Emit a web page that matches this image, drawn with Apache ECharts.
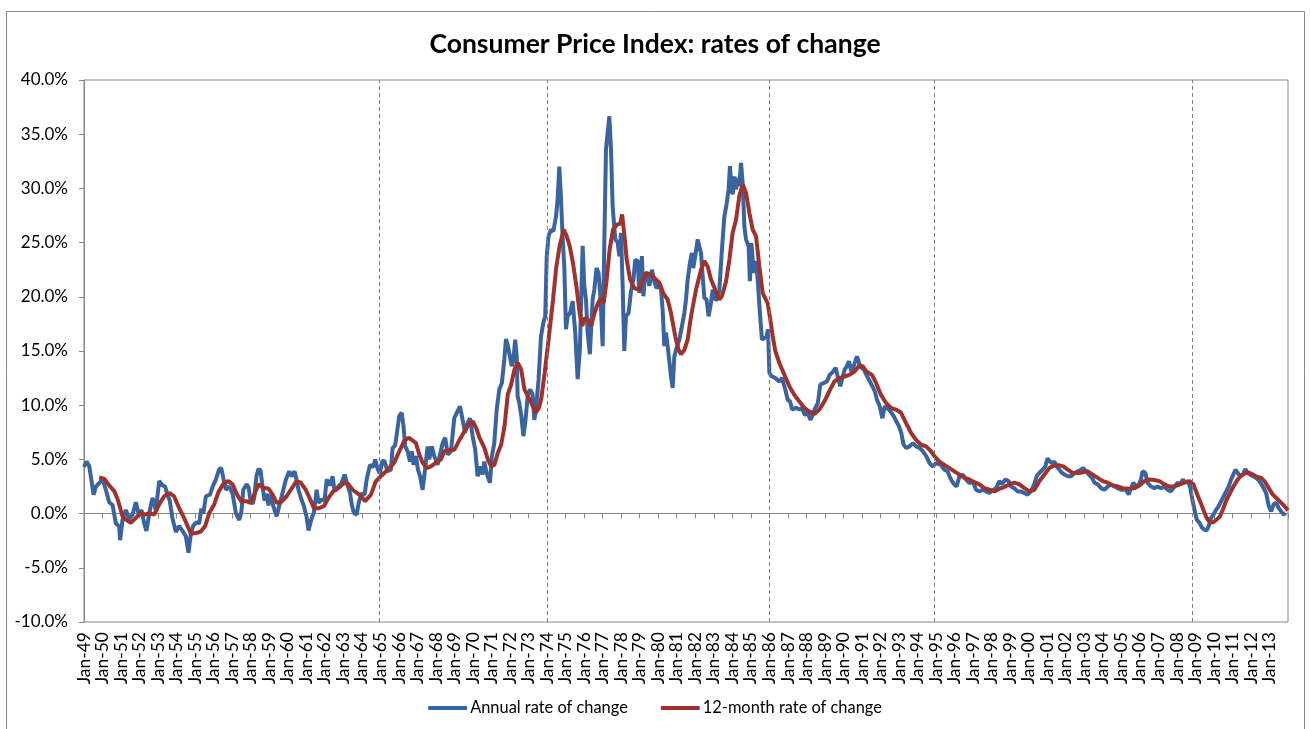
<!DOCTYPE html>
<html>
<head>
<meta charset="utf-8">
<title>Consumer Price Index: rates of change</title>
<script src="https://cdn.jsdelivr.net/npm/echarts@6/dist/echarts.min.js"></script>
<style>
  html, body { margin: 0; padding: 0; background: #fff; }
  #chart { width: 1310px; height: 729px; }
</style>
</head>
<body>
<div id="chart"></div>
<script>
// [decimal year, % change]
const annual1949to1965 = [
  [1949.0, 4.3], [1949.14, 4.8], [1949.28, 4.4], [1949.37, 4.3], [1949.52, 1.75], [1949.64, 2.5], [1949.82, 2.8],
  [1950.0, 3.2], [1950.18, 2.2], [1950.36, 1.05], [1950.54, 0.8], [1950.72, -0.9], [1950.9, -1.2], [1950.95, -2.45],
  [1951.08, -0.55], [1951.26, 0.35], [1951.44, -0.5], [1951.62, -0.1], [1951.8, 1.05], [1951.98, -0.2],
  [1952.1, 0.35], [1952.25, -0.9], [1952.37, -1.6], [1952.56, 0.35], [1952.7, 1.45], [1952.88, 0.3],
  [1953.06, 3.0], [1953.24, 2.6], [1953.38, 2.5], [1953.5, 1.75], [1953.63, 1.2], [1953.77, -0.4], [1953.96, -1.7],
  [1954.14, -1.15], [1954.32, -1.6], [1954.5, -2.1], [1954.64, -3.6], [1954.77, -1.85], [1954.9, -1.1],
  [1955.08, -0.8], [1955.22, -0.9], [1955.33, 0.45], [1955.44, 0], [1955.58, 1.6], [1955.8, 1.75], [1955.94, 2.45],
  [1956.12, 3.15], [1956.3, 4.1], [1956.41, 4.2], [1956.52, 3.3], [1956.66, 2.2], [1956.84, 2.5],
  [1957.02, 1.85], [1957.2, 0.05], [1957.38, -0.6], [1957.49, 0.1], [1957.6, 2.2], [1957.78, 2.7], [1957.88, 2.45], [1957.99, 1.2],
  [1958.1, 0.9], [1958.19, 1.45], [1958.31, 3.45], [1958.42, 4.1], [1958.53, 4.0], [1958.64, 2.45], [1958.75, 1.2], [1958.86, 1.85], [1958.96, 0.75],
  [1959.07, 1.75], [1959.22, 0.7], [1959.4, -0.25], [1959.5, 0.45], [1959.68, 1.65], [1959.9, 3.15],
  [1960.08, 3.9], [1960.22, 3.45], [1960.37, 3.9], [1960.47, 3.15], [1960.58, 2.2], [1960.73, 1.35], [1960.87, 0.7],
  [1961.01, -0.25], [1961.12, -1.55], [1961.27, -0.55], [1961.41, 0.1], [1961.56, 2.2], [1961.66, 1.0], [1961.84, 1.3], [1961.99, 1.2],
  [1962.1, 3.15], [1962.28, 2.6], [1962.42, 3.45], [1962.53, 2.05], [1962.71, 2.45], [1962.89, 2.75],
  [1963.07, 3.6], [1963.25, 2.5], [1963.36, 1.9], [1963.47, 0.7], [1963.57, 0.05], [1963.72, -0.1], [1963.82, 0.9], [1963.97, 1.85],
  [1964.15, 1.75], [1964.26, 3.15], [1964.44, 4.5], [1964.62, 4.3], [1964.72, 5.0], [1964.87, 4.05], [1964.97, 3.7]
];
const annual1965to1975 = [
  [1965.1, 4.8], [1965.21, 4.9], [1965.39, 3.9], [1965.57, 4.05], [1965.66, 6.05], [1965.8, 6.3],
  [1966.02, 9.0], [1966.15, 9.3], [1966.25, 8.05], [1966.34, 6.2], [1966.47, 5.75], [1966.6, 4.8], [1966.7, 5.75], [1966.79, 4.5], [1966.92, 5.3],
  [1967.03, 4.05], [1967.14, 3.45], [1967.28, 2.2], [1967.41, 4.05], [1967.55, 6.2], [1967.64, 5.0], [1967.78, 6.2], [1967.91, 5.3],
  [1968.09, 4.5], [1968.22, 5.45], [1968.36, 6.5], [1968.5, 7.0], [1968.63, 5.45], [1968.81, 5.75], [1968.99, 8.8],
  [1969.17, 9.45], [1969.3, 9.9], [1969.44, 8.65], [1969.57, 7.45], [1969.71, 8.35], [1969.84, 8.8], [1969.98, 7.15],
  [1970.12, 5.9], [1970.25, 3.45], [1970.39, 4.35], [1970.52, 3.6], [1970.61, 4.8], [1970.7, 4.05], [1970.79, 3.45], [1970.92, 2.85],
  [1971.02, 5.3], [1971.15, 6.5], [1971.28, 9.6], [1971.42, 11.45], [1971.56, 12.05], [1971.69, 14.2], [1971.78, 16.1], [1971.87, 15.6], [1971.96, 14.8],
  [1972.09, 13.6], [1972.18, 14.2], [1972.28, 16.05], [1972.36, 14.5], [1972.41, 10.8], [1972.5, 10.2], [1972.61, 9.0], [1972.72, 7.15], [1972.82, 8.35], [1972.95, 10.8],
  [1973.08, 11.45], [1973.22, 11.0], [1973.31, 8.65], [1973.4, 9.6], [1973.54, 12.35], [1973.67, 16.35], [1973.8, 17.6], [1973.9, 18.2],
  [1973.98, 23.7], [1974.08, 25.6], [1974.21, 26.2], [1974.34, 26.05], [1974.48, 27.4], [1974.57, 29.0], [1974.66, 32.0],
  [1974.74, 29.5], [1974.84, 25.5], [1974.93, 22.8]
];
const annual1975to1986 = [
  [1975.02, 17.0], [1975.11, 18.2], [1975.24, 18.5], [1975.38, 19.6], [1975.52, 16.7], [1975.65, 12.4], [1975.77, 15.1], [1975.92, 24.7],
  [1976.01, 21.0], [1976.1, 19.75], [1976.19, 16.7], [1976.31, 14.7], [1976.46, 19.75], [1976.55, 20.65], [1976.67, 22.65], [1976.78, 22.2], [1976.89, 19.75],
  [1977.0, 15.45], [1977.09, 25.0], [1977.18, 33.6], [1977.36, 36.65], [1977.45, 33.6], [1977.54, 28.35], [1977.68, 25.3], [1977.81, 25.0], [1977.9, 23.75], [1977.99, 25.9],
  [1978.08, 21.0], [1978.17, 15.0], [1978.26, 18.2], [1978.4, 18.5], [1978.53, 20.5], [1978.66, 21.6], [1978.76, 23.4], [1978.89, 23.3], [1978.98, 20.35],
  [1979.07, 22.8], [1979.12, 23.75], [1979.2, 20.05], [1979.3, 22.2], [1979.43, 22.05], [1979.52, 21.0], [1979.66, 22.5], [1979.79, 21.4], [1979.91, 20.8],
  [1980.06, 21.1], [1980.15, 20.65], [1980.24, 18.8], [1980.33, 15.45], [1980.42, 16.7], [1980.51, 15.45], [1980.69, 12.65], [1980.78, 11.6], [1980.87, 14.5], [1980.96, 15.1],
  [1981.14, 16.05], [1981.28, 17.3], [1981.41, 18.5], [1981.5, 19.75], [1981.59, 21.6], [1981.71, 23.1], [1981.82, 24.05], [1981.89, 22.65],
  [1982.0, 23.75], [1982.13, 25.3], [1982.22, 24.65], [1982.31, 24.05], [1982.4, 21.9], [1982.49, 19.9], [1982.61, 19.75], [1982.72, 18.2], [1982.85, 19.45], [1982.94, 20.65],
  [1983.08, 19.75], [1983.21, 19.75], [1983.3, 20.65], [1983.44, 24.35], [1983.57, 27.4], [1983.7, 28.65], [1983.8, 29.9], [1983.87, 32.05], [1983.95, 30.2],
  [1984.02, 29.45], [1984.11, 31.1], [1984.2, 29.9], [1984.31, 30.95], [1984.38, 30.2], [1984.47, 32.35], [1984.56, 30.5], [1984.65, 26.5], [1984.74, 25.3], [1984.88, 24.65], [1984.95, 21.45],
  [1985.03, 24.95], [1985.1, 23.45], [1985.19, 22.2], [1985.28, 23.3], [1985.37, 21.6], [1985.49, 18.5], [1985.6, 16.05], [1985.73, 16.2], [1985.85, 16.35], [1985.93, 17.0]
];
const annual1986to1995 = [
  [1986.0, 13.0], [1986.1, 12.7], [1986.32, 12.5], [1986.53, 12.2], [1986.68, 12.5], [1986.86, 11.45], [1986.99, 10.5],
  [1987.12, 10.35], [1987.23, 9.6], [1987.32, 9.45], [1987.45, 9.75], [1987.63, 9.6], [1987.77, 9.75], [1987.9, 9.1],
  [1988.08, 9.3], [1988.21, 8.65], [1988.32, 9.0], [1988.44, 9.6], [1988.62, 10.2], [1988.75, 11.9], [1988.93, 12.05],
  [1989.11, 12.2], [1989.26, 12.8], [1989.44, 13.1], [1989.58, 13.45], [1989.71, 12.5], [1989.83, 11.75], [1989.94, 12.5],
  [1990.07, 13.3], [1990.19, 13.6], [1990.3, 14.05], [1990.43, 13.1], [1990.55, 13.6], [1990.73, 14.5], [1990.84, 13.9], [1990.97, 13.45],
  [1991.1, 13.3], [1991.24, 12.8], [1991.38, 12.35], [1991.56, 11.75], [1991.69, 11.3], [1991.81, 10.5], [1991.96, 9.9],
  [1992.1, 8.8], [1992.23, 9.9], [1992.35, 9.75], [1992.53, 9.45], [1992.71, 9.0], [1992.86, 8.5],
  [1993.0, 8.05], [1993.12, 7.45], [1993.25, 6.35], [1993.39, 6.05], [1993.57, 6.2], [1993.75, 6.5], [1993.93, 6.2],
  [1994.11, 6.05], [1994.29, 5.75], [1994.47, 5.3], [1994.65, 4.65], [1994.83, 4.35], [1995.0, 4.65]
];
const annual1995to2005 = [
  [1995.08, 4.8], [1995.26, 4.5], [1995.44, 4.05], [1995.62, 3.9], [1995.8, 3.15], [1995.98, 2.7],
  [1996.11, 2.5], [1996.26, 3.45], [1996.44, 3.6], [1996.62, 3.15], [1996.8, 2.8], [1996.98, 3.0],
  [1997.16, 2.2], [1997.34, 2.05], [1997.52, 2.2], [1997.7, 2.05], [1997.88, 1.9],
  [1998.06, 2.15], [1998.24, 2.35], [1998.42, 3.0], [1998.56, 2.7], [1998.74, 3.15], [1998.92, 3.0],
  [1999.04, 2.5], [1999.22, 2.35], [1999.4, 2.05], [1999.58, 2.05], [1999.76, 1.9], [1999.94, 1.75],
  [2000.12, 2.05], [2000.3, 2.7], [2000.43, 3.45], [2000.57, 3.75], [2000.75, 4.05], [2000.9, 4.35],
  [2001.02, 5.1], [2001.15, 4.8], [2001.26, 4.65], [2001.39, 4.8], [2001.51, 4.35], [2001.66, 4.05], [2001.8, 3.75], [2001.93, 3.6],
  [2002.11, 3.45], [2002.29, 3.45], [2002.47, 3.75], [2002.65, 3.9], [2002.83, 4.05], [2002.95, 4.2],
  [2003.1, 3.9], [2003.24, 3.6], [2003.42, 3.3], [2003.55, 2.85], [2003.73, 2.7], [2003.91, 2.35],
  [2004.09, 2.2], [2004.27, 2.5], [2004.45, 2.7], [2004.63, 2.5], [2004.81, 2.35], [2004.99, 2.2]
];
const annual2005to2014 = [
  [2005.26, 2.2], [2005.4, 1.75], [2005.53, 2.35], [2005.65, 2.85], [2005.8, 2.5], [2005.94, 2.65],
  [2006.06, 3.15], [2006.15, 3.9], [2006.3, 3.75], [2006.42, 2.85], [2006.6, 2.5], [2006.78, 2.35], [2006.96, 2.5],
  [2007.14, 2.35], [2007.32, 2.5], [2007.5, 2.2], [2007.68, 2.05], [2007.86, 2.5],
  [2008.05, 2.85], [2008.17, 2.65], [2008.32, 3.15], [2008.46, 2.85], [2008.59, 3.0], [2008.71, 2.5], [2008.82, 1.45], [2008.95, 0.35],
  [2009.07, -0.55], [2009.22, -0.85], [2009.36, -1.3], [2009.49, -1.5], [2009.61, -1.55], [2009.72, -1.15], [2009.85, -0.4], [2009.97, -0.1],
  [2010.12, 0.35], [2010.26, 0.7], [2010.44, 1.3], [2010.62, 1.9], [2010.8, 2.5], [2010.93, 3.15],
  [2011.05, 3.6], [2011.16, 4.05], [2011.29, 3.75], [2011.41, 3.45], [2011.56, 3.6], [2011.7, 4.1], [2011.83, 3.75], [2011.95, 3.6],
  [2012.1, 3.45], [2012.28, 3.3], [2012.46, 3.0], [2012.64, 2.5], [2012.82, 1.9], [2012.96, 0.7],
  [2013.09, 0.2], [2013.22, 0.85], [2013.36, 1.0], [2013.5, 0.5], [2013.63, 0.2], [2013.76, -0.1], [2013.87, 0.05]
];

const twelveMonth1949to1965 = [
  [1949.82, 3.35], [1950.1, 3.2], [1950.36, 2.6], [1950.64, 2.05], [1950.82, 1.3],
  [1951.08, -0.25], [1951.26, -0.55], [1951.53, -0.85], [1951.8, -0.4], [1952.07, 0.1], [1952.3, -0.1], [1952.52, 0.05], [1952.79, -0.1],
  [1953.06, 0.85], [1953.33, 1.6], [1953.63, 1.9], [1953.86, 1.6], [1954.14, 0.5], [1954.36, -0.25], [1954.59, -1.15], [1954.77, -1.85],
  [1955.04, -1.8], [1955.31, -1.65], [1955.54, -1.15], [1955.76, 0.05], [1956.03, 0.85], [1956.26, 2.0], [1956.52, 2.75], [1956.8, 3.0],
  [1957.02, 2.7], [1957.26, 1.75], [1957.48, 1.15], [1957.75, 1.15], [1958.0, 1.0], [1958.19, 1.75], [1958.42, 2.7], [1958.67, 2.4], [1958.96, 2.3],
  [1959.18, 1.75], [1959.4, 1.0], [1959.63, 1.05], [1959.94, 1.6], [1960.26, 2.45], [1960.47, 3.0], [1960.7, 2.85], [1960.97, 2.2],
  [1961.24, 1.2], [1961.42, 0.5], [1961.69, 0.5], [1961.96, 0.7], [1962.2, 1.45], [1962.45, 2.05], [1962.74, 2.35],
  [1963.05, 2.85], [1963.25, 2.75], [1963.5, 2.2], [1963.86, 1.75], [1964.18, 1.15], [1964.49, 1.75], [1964.76, 3.0], [1965.0, 3.4]
];
const twelveMonth1965to1974 = [
  [1965.21, 3.75], [1965.48, 4.2], [1965.75, 4.7], [1966.02, 5.75], [1966.29, 6.7], [1966.52, 7.0], [1966.74, 6.75], [1966.92, 6.5],
  [1967.1, 5.45], [1967.28, 4.7], [1967.5, 4.2], [1967.73, 4.35], [1968.0, 4.7], [1968.27, 5.0], [1968.45, 5.75], [1968.72, 5.85],
  [1969.0, 5.9], [1969.27, 6.8], [1969.54, 7.6], [1969.81, 8.35], [1969.99, 8.5], [1970.17, 7.9], [1970.35, 7.0], [1970.62, 6.05], [1970.8, 5.0], [1970.98, 4.35],
  [1971.16, 4.5], [1971.34, 5.6], [1971.52, 6.35], [1971.7, 8.05], [1971.88, 11.0], [1972.06, 11.9], [1972.24, 13.3], [1972.42, 13.9], [1972.6, 13.3], [1972.78, 11.45],
  [1973.02, 10.65], [1973.2, 10.05], [1973.38, 9.3], [1973.56, 9.75], [1973.69, 10.65], [1973.87, 13.0]
];
const twelveMonth1974to1986 = [
  [1974.05, 15.6], [1974.32, 19.7], [1974.5, 22.8], [1974.68, 24.7], [1974.9, 26.2], [1975.04, 25.7], [1975.22, 24.7], [1975.4, 23.1], [1975.58, 21.0], [1975.76, 18.5], [1975.9, 17.3],
  [1976.02, 18.05], [1976.2, 17.9], [1976.38, 17.3], [1976.56, 18.5], [1976.74, 19.4], [1976.92, 19.9],
  [1977.05, 19.4], [1977.2, 21.3], [1977.38, 24.4], [1977.56, 26.2], [1977.77, 26.65], [1977.95, 26.75], [1978.05, 27.6], [1978.18, 25.6], [1978.3, 23.4], [1978.48, 21.6], [1978.71, 20.8], [1978.98, 20.65],
  [1979.16, 21.4], [1979.34, 22.2], [1979.61, 22.05], [1979.79, 21.75], [1980.06, 21.3], [1980.27, 20.35], [1980.51, 19.75], [1980.69, 18.5], [1980.92, 16.35],
  [1981.1, 15.1], [1981.23, 14.7], [1981.41, 15.1], [1981.59, 16.05], [1981.77, 18.2], [1982.04, 20.65], [1982.31, 22.5], [1982.49, 23.3], [1982.67, 22.8], [1982.85, 21.6],
  [1983.08, 20.65], [1983.3, 19.75], [1983.44, 20.05], [1983.66, 21.4], [1983.84, 23.4], [1984.02, 25.9], [1984.2, 27.1], [1984.38, 29.3], [1984.56, 30.35], [1984.74, 29.6], [1984.92, 27.75],
  [1985.1, 26.2], [1985.28, 25.6], [1985.46, 22.8], [1985.64, 20.35], [1985.91, 19.4]
];
const twelveMonth1986to1995 = [
  [1986.05, 17.9], [1986.18, 16.4], [1986.32, 15.0], [1986.54, 13.9], [1986.81, 12.8], [1987.08, 11.75], [1987.35, 10.95], [1987.62, 10.35], [1987.89, 9.75],
  [1988.12, 9.45], [1988.43, 9.2], [1988.7, 9.6], [1988.97, 10.35], [1989.24, 11.3], [1989.51, 12.2], [1989.78, 12.5],
  [1990.05, 12.65], [1990.32, 12.8], [1990.59, 13.1], [1990.86, 13.65], [1991.04, 13.6], [1991.25, 13.1], [1991.54, 12.8], [1991.76, 12.05],
  [1992.03, 10.95], [1992.3, 10.2], [1992.57, 9.75], [1992.84, 9.6], [1993.11, 9.3], [1993.38, 8.35], [1993.65, 7.45], [1993.92, 6.8],
  [1994.19, 6.35], [1994.46, 6.2], [1994.73, 5.75], [1994.91, 5.3]
];
const twelveMonth1995to2014 = [
  [1995.18, 4.8], [1995.45, 4.5], [1995.72, 4.2], [1995.99, 3.9], [1996.26, 3.6], [1996.53, 3.3], [1996.8, 3.15],
  [1997.07, 2.9], [1997.34, 2.7], [1997.61, 2.35], [1997.88, 2.2], [1998.15, 2.05], [1998.42, 2.3], [1998.69, 2.45], [1998.96, 2.7],
  [1999.23, 2.85], [1999.5, 2.7], [1999.77, 2.35], [2000.04, 2.05], [2000.31, 2.2], [2000.58, 3.0], [2000.85, 3.6],
  [2001.12, 4.2], [2001.39, 4.45], [2001.66, 4.45], [2001.87, 4.35], [2002.11, 4.05], [2002.38, 3.75], [2002.65, 3.75], [2002.92, 3.8],
  [2003.19, 3.9], [2003.46, 3.6], [2003.73, 3.3], [2004.0, 3.0], [2004.27, 2.85], [2004.54, 2.6], [2004.81, 2.5], [2005.08, 2.35],
  [2005.44, 2.3], [2005.71, 2.35], [2005.98, 2.6], [2006.25, 3.0], [2006.52, 3.15], [2006.79, 3.1], [2007.06, 3.0], [2007.33, 2.7], [2007.6, 2.5], [2007.87, 2.5],
  [2008.14, 2.7], [2008.41, 2.85], [2008.68, 3.0], [2008.89, 2.7], [2009.07, 1.9], [2009.25, 1.15], [2009.43, 0.35], [2009.61, -0.4], [2009.79, -0.8], [2009.97, -0.8],
  [2010.15, -0.55], [2010.33, -0.25], [2010.51, 0.5], [2010.69, 1.3], [2010.87, 1.9], [2011.05, 2.5], [2011.23, 3.0], [2011.41, 3.4], [2011.64, 3.7], [2011.88, 3.8],
  [2012.1, 3.6], [2012.31, 3.4], [2012.55, 3.3], [2012.73, 3.0], [2012.96, 2.35], [2013.18, 1.75], [2013.45, 1.3], [2013.72, 0.85], [2014.0, 0.3]
];

const annualRate = [].concat(annual1949to1965, annual1965to1975, annual1975to1986,
  annual1986to1995, annual1995to2005, annual2005to2014);
const twelveMonthRate = [].concat(twelveMonth1949to1965, twelveMonth1965to1974,
  twelveMonth1974to1986, twelveMonth1986to1995, twelveMonth1995to2014);

// dashed period markers drawn on the original
const periodBreaks = [1964.95, 1974.0, 1986.0, 1994.9, 2008.85];

const firstYear = 1949;
const lastYear = 2013;
const tickLabels = [];
for (let y = firstYear; y <= lastYear; y++) {
  tickLabels.push('Jan-' + String(y).slice(2));
}

const font = 'Lato, "Open Sans", sans-serif';
const axisGrey = '#878787';
const blue = '#3A64A0';
const red = '#A0322D';

const chart = echarts.init(document.getElementById('chart'));

const option = {
  animation: false,
  backgroundColor: '#fff',
  title: {
    text: 'Consumer Price Index: rates of change',
    left: 'center',
    top: 26,
    textStyle: { fontFamily: font, fontWeight: 'bold', fontSize: 26.5, color: '#000' }
  },
  graphic: [
    {
      type: 'rect',
      shape: { x: 6.5, y: 11.5, width: 1298, height: 740 },
      style: { fill: null, stroke: axisGrey, lineWidth: 1 },
      silent: true
    }
  ],
  legend: {
    top: 695,
    left: 'center',
    icon: 'roundRect',
    itemWidth: 39,
    itemHeight: 4,
    itemGap: 33,
    textStyle: { fontFamily: font, fontSize: 16.4, color: '#000', padding: [0, 0, 0, -2] },
    data: ['Annual rate of change', '12-month rate of change']
  },
  grid: {
    left: 84,
    right: 22,
    top: 80,
    bottom: 107,
    show: true,
    borderColor: axisGrey,
    borderWidth: 1,
    containLabel: false
  },
  xAxis: [
    {
      type: 'value',
      min: firstYear,
      max: lastYear + 1,
      interval: 1,
      position: 'bottom',
      axisLine: { show: false, onZero: false },
      axisTick: { show: false },
      splitLine: { show: false },
      axisLabel: {
        rotate: 90,
        margin: 10,
        padding: [10, 0, 0, 0],
        fontFamily: font,
        fontSize: 17.5,
        color: '#000',
        showMaxLabel: false,
        formatter: (v) => tickLabels[Math.round(v) - firstYear] || ''
      }
    },
    {
      type: 'value',
      min: firstYear,
      max: lastYear + 1,
      interval: 1,
      position: 'bottom',
      axisLine: { show: true, onZero: true, lineStyle: { color: axisGrey, width: 1 } },
      axisTick: { show: true, length: 5, lineStyle: { color: axisGrey } },
      axisLabel: { show: false },
      splitLine: { show: false }
    }
  ],
  yAxis: {
    type: 'value',
    min: -10,
    max: 40,
    interval: 5,
    axisLine: { show: true, lineStyle: { color: axisGrey } },
    axisTick: { show: true, length: 5, lineStyle: { color: axisGrey } },
    splitLine: { show: false },
    axisLabel: {
      margin: 16,
      fontFamily: font,
      fontSize: 17,
      color: '#000',
      formatter: (v) => v.toFixed(1) + '%'
    }
  },
  series: [
    {
      name: 'Annual rate of change',
      type: 'line',
      data: annualRate,
      symbol: 'none',
      lineStyle: { color: blue, width: 4 },
      itemStyle: { color: blue },
      markLine: {
        silent: true,
        symbol: ['none', 'none'],
        label: { show: false },
        lineStyle: { color: '#7f7f7f', type: [4, 3], width: 1 },
        data: periodBreaks.map((x) => ({ xAxis: x }))
      }
    },
    {
      name: '12-month rate of change',
      type: 'line',
      data: twelveMonthRate,
      symbol: 'none',
      lineStyle: { color: red, width: 4 },
      itemStyle: { color: red }
    }
  ]
};

chart.setOption(option);
</script>
</body>
</html>
